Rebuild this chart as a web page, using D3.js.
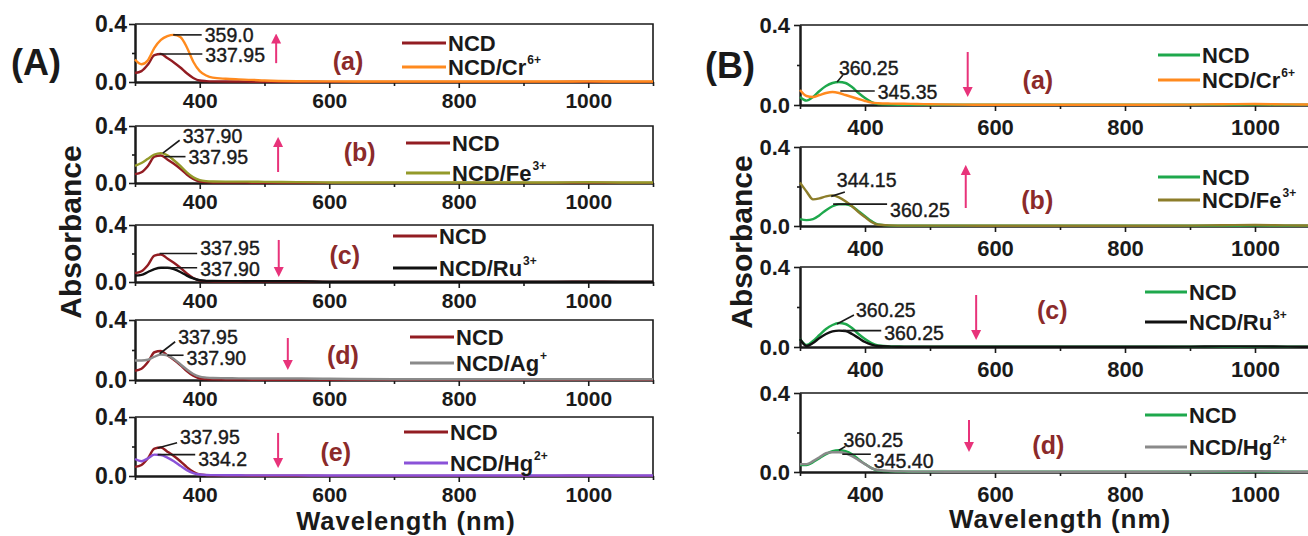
<!DOCTYPE html>
<html>
<head>
<meta charset="utf-8">
<script src="https://cdn.jsdelivr.net/npm/d3@7"></script>
<style>
  body { margin: 0; background: #fff; }
  svg { display: block; font-family: "Liberation Sans", Arial, sans-serif; }
</style>
</head>
<body>
<div id="chart"></div>
<script>
// ---- data ----
const wavelengths = [300, 310, 320, 330, 340, 350, 360, 370, 380, 390, 400, 410, 420, 440, 460, 480, 500, 550, 600, 700, 800, 900, 950, 1000, 1050, 1100];

// panel A
const ncdA = [0.062, 0.075, 0.12, 0.185, 0.193, 0.165, 0.135, 0.1, 0.06, 0.028, 0.01, 0.006, 0.004, 0.003, 0.003, 0.002, 0.002, 0.002, 0.001, 0.001, 0.001, 0.001, 0.001, 0.002, 0.001, 0.001];
const crA = [0.155, 0.122, 0.15, 0.235, 0.29, 0.316, 0.325, 0.31, 0.24, 0.14, 0.075, 0.045, 0.03, 0.022, 0.018, 0.015, 0.01, 0.005, 0.004, 0.003, 0.003, 0.003, 0.003, 0.004, 0.003, 0.003];
const feA = [0.12, 0.14, 0.17, 0.2, 0.21, 0.195, 0.16, 0.12, 0.075, 0.04, 0.02, 0.013, 0.011, 0.01, 0.01, 0.009, 0.008, 0.006, 0.004, 0.004, 0.004, 0.004, 0.004, 0.005, 0.004, 0.004];
const ruA = [0.045, 0.05, 0.07, 0.09, 0.1, 0.1, 0.09, 0.07, 0.045, 0.025, 0.012, 0.008, 0.007, 0.006, 0.006, 0.005, 0.005, 0.005, 0.002, 0.002, 0.002, 0.002, 0.002, 0.002, 0.002, 0.002];
const agA = [0.13, 0.13, 0.135, 0.155, 0.17, 0.165, 0.14, 0.105, 0.07, 0.04, 0.022, 0.016, 0.013, 0.012, 0.011, 0.01, 0.01, 0.01, 0.008, 0.005, 0.005, 0.005, 0.005, 0.005, 0.005, 0.005];
const hgA = [0.115, 0.1, 0.12, 0.145, 0.142, 0.125, 0.1, 0.07, 0.04, 0.02, 0.01, 0.007, 0.006, 0.005, 0.005, 0.004, 0.004, 0.004, 0.003, 0.003, 0.003, 0.003, 0.003, 0.003, 0.003, 0.003];

// panel B
const ncdBa = [0.04, 0.022, 0.04, 0.07, 0.095, 0.11, 0.115, 0.11, 0.09, 0.06, 0.035, 0.015, 0.005, 0.002, 0.001, 0.001, 0.001, 0.001, 0.001, 0.001, 0.001, 0.001, 0.001, 0.002, 0.001, 0.001];
const crB = [0.075, 0.045, 0.04, 0.05, 0.06, 0.065, 0.06, 0.05, 0.04, 0.03, 0.02, 0.012, 0.009, 0.007, 0.006, 0.005, 0.004, 0.002, 0.001, 0.001, 0.001, 0.002, 0.004, 0.005, 0.003, 0.002];
const ncdBb = [0.035, 0.03, 0.035, 0.055, 0.08, 0.1, 0.11, 0.11, 0.1, 0.075, 0.05, 0.025, 0.008, 0.002, 0.001, 0.001, 0.001, 0.001, 0.001, 0.001, 0.001, 0.001, 0.001, 0.002, 0.001, 0.001];
const feB = [0.22, 0.175, 0.135, 0.14, 0.15, 0.155, 0.145, 0.125, 0.1, 0.07, 0.045, 0.02, 0.006, 0.003, 0.002, 0.002, 0.002, 0.002, 0.001, 0.001, 0.001, 0.002, 0.004, 0.005, 0.003, 0.002];
const ncdBc = [0.04, 0.01, 0.03, 0.06, 0.09, 0.11, 0.12, 0.115, 0.095, 0.065, 0.04, 0.02, 0.008, 0.003, 0.002, 0.001, 0.001, 0.001, 0.001, 0.001, 0.001, 0.001, 0.001, 0.002, 0.001, 0.001];
const ruB = [0.04, 0.005, 0.02, 0.045, 0.065, 0.078, 0.082, 0.08, 0.065, 0.045, 0.025, 0.012, 0.005, 0.002, 0.001, 0.001, 0.001, 0.001, 0.001, 0.001, 0.001, 0.002, 0.003, 0.003, 0.002, 0.001];
const ncdBd = [0.035, 0.035, 0.05, 0.07, 0.09, 0.105, 0.11, 0.105, 0.09, 0.065, 0.04, 0.02, 0.008, 0.003, 0.002, 0.001, 0.001, 0.001, 0.001, 0.001, 0.001, 0.001, 0.001, 0.002, 0.001, 0.001];
const hgB = [0.04, 0.04, 0.055, 0.075, 0.095, 0.1, 0.1, 0.095, 0.08, 0.06, 0.04, 0.02, 0.01, 0.005, 0.003, 0.002, 0.002, 0.001, 0.001, 0.001, 0.001, 0.002, 0.003, 0.004, 0.002, 0.001];

// labels
const tagsA = ["(a)", "(b)", "(c)", "(d)", "(e)"];
const tagsB = ["(a)", "(b)", "(c)", "(d)"];
const ionsA = [["Cr", "6+"], ["Fe", "3+"], ["Ru", "3+"], ["Ag", "+"], ["Hg", "2+"]];
const ionsB = [["Cr", "6+"], ["Fe", "3+"], ["Ru", "3+"], ["Hg", "2+"]];
const peaksA = [["359.0", "337.95"], ["337.90", "337.95"], ["337.95", "337.90"], ["337.95", "337.90"], ["337.95", "334.2"]];
const peaksB = [["360.25", "345.35"], ["344.15", "360.25"], ["360.25", "360.25"], ["360.25", "345.40"]];
const xMajor = [400, 600, 800, 1000];
const xMinor = [300, 500, 700, 900, 1100];
const yMajor = [0, 0.4];
const yMinor = [0.2];

// colours
const red = "#921c22", green = "#1ea84c";
const colorsA = ["#ff8a1e", "#949a2a", "#111111", "#8a8a8a", "#8a52d8"];
const colorsB = ["#ff8a1e", "#8c7d2a", "#111111", "#8a8a8a"];

// ---- layout ----
const W = 1308, H = 536;
const svg = d3.select("#chart").append("svg").attr("width", W).attr("height", H);

const panelA = {
  left: 135, right: 653,
  rows: [[24, 82], [126, 183], [225, 282], [320, 380], [417, 476]],
  xFont: 21, xPad: 5, yFont: 23, yPad: 2,
  series: [[ncdA, crA], [ncdA, feA], [ncdA, ruA], [ncdA, agA], [ncdA, hgA]],
  ncdColor: red, colors: colorsA, tags: tagsA, ions: ionsA, peaks: peaksA,
  legend: [[402, 19, 43], [406, 17, 47], [393, 11, 43], [410, 17, 43], [404, 15, 46]],
  legendLen: 44, legendFont: 22,
  tagPos: [[629, 0.145], [647, 0.218], [624, 0.189], [621, 0.167], [610, 0.163]],
  // [nm, tail value, tip value]
  arrowPos: [[518, 0.13, 0.30], [521, 0.077, 0.288], [522, 0.295, 0.07], [536, 0.28, 0.1], [521, 0.292, 0.088]],
  ann: [
    [{a: [359, 0.325], e: [403, 0.325], dx: 3, dy: 0}, {a: [338, 0.193], e: [404, 0.193], dx: 3, dy: 1}],
    [{a: [343, 0.21], e: [369, 0.30], dx: 3, dy: -4}, {a: [345, 0.185], e: [378, 0.185], dx: 3, dy: 0}],
    [{a: [338, 0.2], e: [396, 0.2], dx: 3, dy: -6}, {a: [345, 0.1], e: [396, 0.1], dx: 3, dy: 1}],
    [{a: [338, 0.175], e: [362, 0.255], dx: 3, dy: -5}, {a: [350, 0.165], e: [375, 0.165], dx: 3, dy: 3}],
    [{a: [335, 0.19], e: [365, 0.225], dx: 3, dy: -6}, {a: [335, 0.145], e: [393, 0.145], dx: 3, dy: 4}]
  ]
};

const panelB = {
  left: 800, right: 1320,
  rows: [[25, 105], [147, 226], [267, 347], [393, 472]],
  xFont: 22, xPad: 8, yFont: 22, yPad: 4,
  series: [[ncdBa, crB], [ncdBb, feB], [ncdBc, ruB], [ncdBd, hgB]],
  ncdColor: green, colors: colorsB, tags: tagsB, ions: ionsB, peaks: peaksB,
  legend: [[1158, 30, 55], [1158, 30, 53], [1145, 25, 55], [1145, 22, 54]],
  legendLen: 42, legendFont: 22,
  tagPos: [[666, 0.125], [665, 0.132], [688, 0.185], [682, 0.137]],
  arrowPos: [[558, 0.265, 0.065], [555, 0.091, 0.284], [571, 0.26, 0.06], [560, 0.263, 0.127]],
  ann: [
    [{a: [357, 0.115], e: [366, 0.15], dx: -4, dy: -7}, {a: [362, 0.07], e: [415, 0.07], dx: 3, dy: 1}],
    [{a: [348, 0.15], e: [369, 0.172], dx: -8, dy: -12}, {a: [351, 0.111], e: [434, 0.111], dx: 3, dy: 6}],
    [{a: [357, 0.115], e: [383, 0.16], dx: 2, dy: -5}, {a: [366, 0.082], e: [425, 0.082], dx: 3, dy: 2}],
    [{a: [360, 0.11], e: [370, 0.13], dx: -2, dy: -6}, {a: [365, 0.09], e: [409, 0.09], dx: 3, dy: 7}]
  ]
};

const ink = "#1a1a1a";
const pink = "#e8337a";
const tagColor = "#8b2a2a";

// arrow head marker
svg.append("defs").append("marker")
  .attr("id", "head").attr("viewBox", "0 0 10 10")
  .attr("refX", 5).attr("refY", 5)
  .attr("markerWidth", 5).attr("markerHeight", 6)
  .attr("orient", "auto-start-reverse")
  .append("path").attr("d", "M0,0L10,5L0,10Z").attr("fill", pink);

const drawPanel = (p) => {
  const x = d3.scaleLinear().domain([300, 1100]).range([p.left, p.right]);

  p.rows.forEach(([top, bottom], i) => {
    const y = d3.scaleLinear().domain([0, 0.4]).range([bottom, top]);
    const g = svg.append("g");

    // frame
    g.append("path")
      .attr("d", `M${p.left},${top}H${p.right}V${bottom}`)
      .attr("fill", "none").attr("stroke", ink).attr("stroke-width", 1.6);

    // x axis
    const xa = g.append("g").attr("transform", `translate(0,${bottom})`)
      .call(d3.axisBottom(x).tickValues(xMajor).tickFormat(d3.format("d"))
        .tickSize(6).tickPadding(p.xPad).tickSizeOuter(0));
    g.append("g").attr("transform", `translate(0,${bottom})`)
      .call(d3.axisBottom(x).tickValues(xMinor).tickSize(4).tickFormat("").tickSizeOuter(0));

    // y axis
    g.append("g").attr("transform", `translate(${p.left},0)`)
      .call(d3.axisLeft(y).tickValues(yMajor).tickFormat(d3.format(".1f")).tickSize(6).tickPadding(p.yPad).tickSizeOuter(0))
      .selectAll("text").attr("font-size", p.yFont);
    g.append("g").attr("transform", `translate(${p.left},0)`)
      .call(d3.axisLeft(y).tickValues(yMinor).tickSize(3).tickFormat("").tickSizeOuter(0));

    g.selectAll(".domain").attr("stroke", ink).attr("stroke-width", 2);
    g.selectAll(".tick line").attr("stroke", ink).attr("stroke-width", 1.6);
    g.selectAll(".tick text").attr("fill", ink).attr("font-weight", "bold")
      .attr("font-family", "Liberation Sans, Arial, sans-serif");
    xa.selectAll("text").attr("font-size", p.xFont);

    // curves
    const line = d3.line().x(d => x(d[0])).y(d => y(d[1])).curve(d3.curveMonotoneX);
    const cols = [p.ncdColor, p.colors[i]];
    p.series[i].forEach((s, j) => {
      g.append("path")
        .datum(wavelengths.map((w, k) => [w, s[k]]))
        .attr("d", line)
        .attr("fill", "none")
        .attr("stroke", cols[j])
        .attr("stroke-width", 2.4)
        .attr("stroke-linejoin", "round");
    });

    // peak annotations
    p.ann[i].forEach((an, j) => {
      g.append("line")
        .attr("x1", x(an.a[0])).attr("y1", y(an.a[1]))
        .attr("x2", x(an.e[0])).attr("y2", y(an.e[1]))
        .attr("stroke", ink).attr("stroke-width", 1.6);
      g.append("text")
        .attr("x", x(an.e[0]) + an.dx).attr("y", y(an.e[1]) + an.dy)
        .attr("dominant-baseline", "central")
        .attr("font-size", 19.5).attr("fill", ink)
        .attr("stroke", ink).attr("stroke-width", 0.4)
        .text(p.peaks[i][j]);
    });

    // arrow
    const [anm, from, to] = p.arrowPos[i];
    g.append("line")
      .attr("x1", x(anm)).attr("y1", y(from))
      .attr("x2", x(anm)).attr("y2", y(to))
      .attr("stroke", pink).attr("stroke-width", 2)
      .attr("marker-end", "url(#head)");

    // tag
    g.append("text")
      .attr("x", x(p.tagPos[i][0])).attr("y", y(p.tagPos[i][1]))
      .attr("text-anchor", "middle").attr("dominant-baseline", "central")
      .attr("font-size", 25).attr("font-weight", "bold").attr("fill", tagColor)
      .text(p.tags[i]);

    // legend
    const [lx, ly1, ly2] = p.legend[i];
    const entries = [["NCD", "", p.ncdColor, ly1], ["NCD/" + p.ions[i][0], p.ions[i][1], p.colors[i], ly2]];
    entries.forEach(([name, sup, c, dy]) => {
      const yy = top + dy;
      g.append("line")
        .attr("x1", lx).attr("x2", lx + p.legendLen)
        .attr("y1", yy).attr("y2", yy)
        .attr("stroke", c).attr("stroke-width", 3);
      const t = g.append("text")
        .attr("x", lx + p.legendLen + 2).attr("y", yy + 8)
        .attr("font-size", p.legendFont).attr("font-weight", "bold").attr("fill", ink)
        .text(name);
      if (sup) {
        t.append("tspan").attr("font-size", 12).attr("dy", -11).attr("dx", 1).text(sup);
      }
    });
  });
};

drawPanel(panelA);
drawPanel(panelB);

// panel letters and axis titles
const title = (txt, x, y, size, rot) => {
  const t = svg.append("text")
    .attr("font-size", size).attr("font-weight", "bold").attr("fill", ink)
    .text(txt);
  if (rot) t.attr("transform", `translate(${x},${y}) rotate(-90)`).attr("text-anchor", "middle");
  else t.attr("x", x).attr("y", y);
  return t;
};
title("(A)", 11, 75, 36, false);
title("(B)", 705, 78, 36, false);
title("Absorbance", 81, 232, 30, true);
title("Absorbance", 752, 242, 30, true);
svg.append("text").attr("x", 406).attr("y", 530).attr("text-anchor", "middle")
  .attr("font-size", 25.5).attr("font-weight", "bold").attr("fill", ink)
  .attr("letter-spacing", 1).text("Wavelength (nm)");
svg.append("text").attr("x", 1060).attr("y", 528).attr("text-anchor", "middle")
  .attr("font-size", 26).attr("font-weight", "bold").attr("fill", ink)
  .attr("letter-spacing", 0.9).text("Wavelength (nm)");
</script>
</body>
</html>
